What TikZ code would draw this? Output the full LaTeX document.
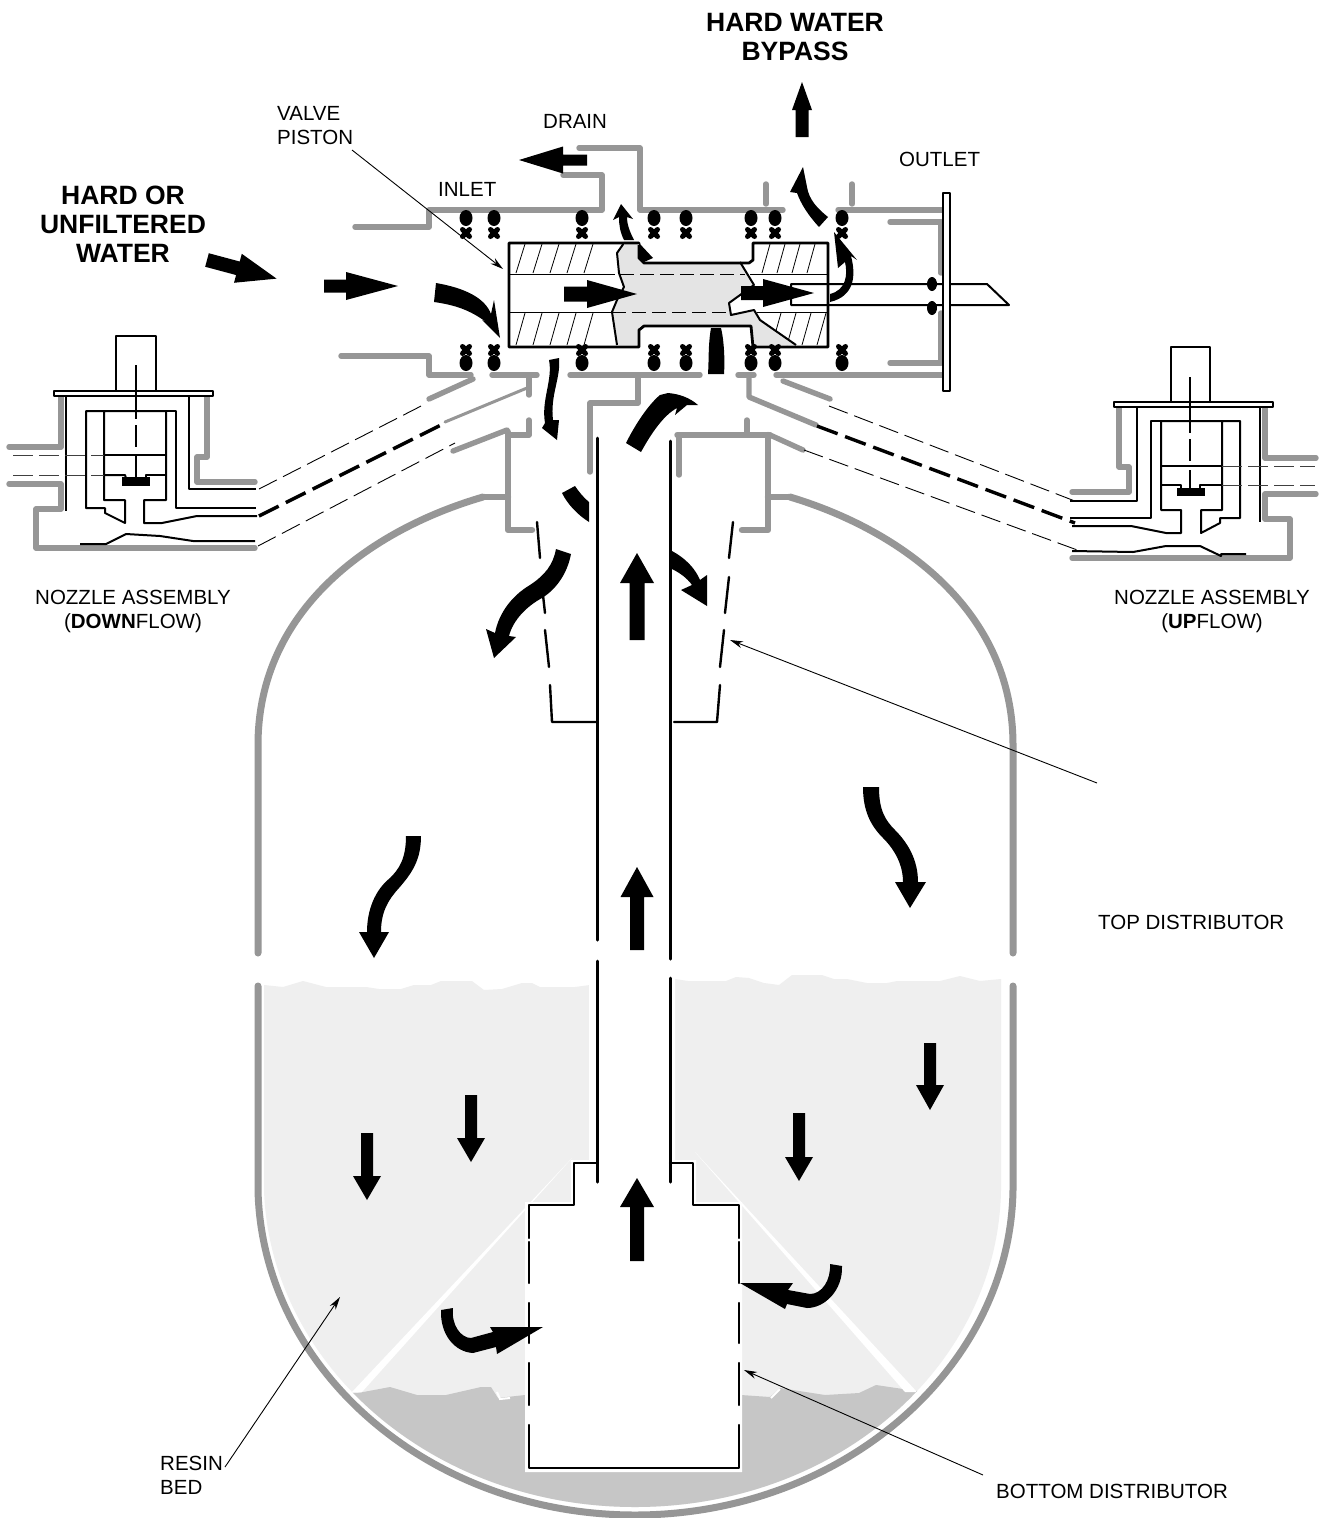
\documentclass[tikz,border=0pt]{standalone}
\usepackage{fontspec}
\setmainfont{Liberation Sans}
\usetikzlibrary{arrows.meta}
\definecolor{gl}{HTML}{969696}
\definecolor{resinlight}{HTML}{EFEFEF}
\definecolor{resindark}{HTML}{C6C6C6}
\definecolor{pistonfill}{HTML}{E4E4E4}
\tikzset{
  gline/.style={line width=5.4pt,color=gl,line cap=round,line join=round},
  tankline/.style={line width=7pt,color=gl,line cap=round,line join=round},
  bline/.style={line width=2pt,black,line join=round},
  bthin/.style={line width=1pt,black,line join=round},
  bwall/.style={line width=2.4pt,black,line cap=round,line join=round},
  thindash/.style={line width=.9pt,black,dash pattern=on 20pt off 7pt},
  thickdash/.style={line width=3.4pt,black,dash pattern=on 22pt off 8pt},
  hdash/.style={line width=1pt,black!75,dash pattern=on 20pt off 6pt},
  leader/.style={line width=.9pt,black,-{Stealth[length=13pt,width=7pt]}},
  lab/.style={inner sep=0pt,font=\fontsize{20.5}{24}\selectfont},
  bigl/.style={inner sep=0pt,font=\fontsize{26.5}{29}\selectfont\bfseries,align=center},
  hatchl/.style={line width=.8pt,black},
}
\newcommand\flowarrow[7]{\fill[shift={(#1,#2)},rotate=#3] (0,-#6/2) -- (#4-#5,-#6/2) -- (#4-#5,-#7/2) -- (#4,0) -- (#4-#5,#7/2) -- (#4-#5,#6/2) -- (0,#6/2) -- cycle;}
\newcommand\ringtop[1]{\fill (#1,218) ellipse (6.5pt and 8pt);
  \draw[line width=5pt,line cap=round] (#1-3.5,229.5)--(#1+3.5,236.5) (#1+3.5,229.5)--(#1-3.5,236.5);}
\newcommand\ringbot[1]{\fill (#1,363) ellipse (6.5pt and 8pt);
  \draw[line width=5pt,line cap=round] (#1-3.5,346.5)--(#1+3.5,353.5) (#1+3.5,346.5)--(#1-3.5,353.5);}
\begin{document}
\begin{tikzpicture}[x=1pt,y=-1pt]
\useasboundingbox (0,0) rectangle (1323,1518);
\fill[white] (0,0) rectangle (1323,1518);

% ---------- resin
\begin{scope}
\clip (264,985) -- (283,987) -- (303,981) -- (326,987) -- (366,987) -- (379,989) -- (401,989) -- (414,985) -- (431,985) -- (441,981) -- (472,981) -- (484,990) -- (502,989) -- (522,983) -- (532,983) -- (540,987) -- (575,987) -- (590,985)
 -- (675,979) -- (688,981) -- (726,981) -- (736,977) -- (749,978) -- (764,983) -- (779,985) -- (792,975) -- (822,975) -- (834,979) -- (847,979) -- (867,983) -- (887,983) -- (897,981) -- (940,981) -- (960,976) -- (980,981) -- (1001,979)
 -- (1001,1190) .. controls (998,1365) and (838,1507) .. (635,1507) .. controls (432,1507) and (270,1365) .. (264,1190) -- cycle;
\fill[resinlight] (250,960) rectangle (1020,1518);
\fill[resindark] (340,1393) -- (358,1393) -- (390,1387) -- (417,1395) -- (446,1395) -- (481,1387) -- (491,1387) -- (498,1398) -- (525,1395) -- (741,1395) -- (770,1397) -- (780,1388) -- (825,1395) -- (859,1393) -- (876,1385) -- (930,1393) -- (1000,1518) -- (270,1518) -- cycle;
\fill[white] (352,1392) -- (362,1392) -- (572,1158) -- cycle;
\fill[white] (695,1152) -- (905,1392) -- (917,1392) -- cycle;
\draw[white,line width=2pt] (771,1398) -- (780,1389);
\draw[white,line width=2pt] (497,1392) -- (500,1399) -- (510,1398);
\end{scope}
\fill[white] (589,970) -- (675,970) -- (675,1160) -- (696,1160) -- (696,1202) -- (742,1202) -- (742,1472) -- (525,1472) -- (525,1202) -- (571,1202) -- (571,1160) -- (589,1160) -- cycle;

% ---------- tank
\draw[tankline] (483,497) .. controls (370,530) and (258,610) .. (258,745) -- (258,953);
\draw[tankline] (790,497) .. controls (900,530) and (1013,610) .. (1013,745) -- (1013,953);
\draw[tankline] (258,986) -- (258,1190) .. controls (262,1370) and (430,1515) .. (635,1515) .. controls (840,1515) and (1010,1370) .. (1013,1190) -- (1013,986);

% ---------- gray pipework, valve
\draw[gline] (579,148) -- (640,148) -- (640,210) -- (783,210);
\draw[gline] (563,175) -- (602,175) -- (602,210) -- (429,210) -- (429,227) -- (355,227);
\draw[gline] (766,184) -- (766,204);
\draw[gline] (852,184) -- (852,204);
\draw[gline] (838,210) -- (942,210);
\draw[gline] (890,222) -- (941,222) -- (941,273);
\draw[gline] (941,313) -- (941,363) -- (890,363);
\draw[gline] (942,375) -- (776,375);
\draw[gline] (783,381) -- (830,399);
\draw[gline] (738,375) -- (754,375);
\draw[gline] (749,375) -- (749,397) -- (816,425);
\draw[gline] (570,375) -- (700,375);
\draw[gline] (638,375) -- (638,403) -- (590,403) -- (590,472);
\draw[gline] (492,375) -- (537,375);
\draw[gline] (529,375) -- (529,395);
\draw[line width=3pt,gl,line cap=round] (527,388) -- (445,422);
\draw[gline] (473,379) -- (429,399);
\draw[gline] (341,356) -- (429,356) -- (429,375) -- (471,375);
\draw[gline] (529,420) -- (529,435) -- (508,435);
\draw[gline] (507,430) -- (453,451);
\draw[gline,line width=6.4pt] (508,432) -- (508,530) -- (532,530);
\draw[gline,line width=6.4pt] (508,497) -- (483,497);
\draw[gline] (677,435) -- (770,435);
\draw[gline] (747,420) -- (747,435);
\draw[gline] (679,435) -- (679,475);
\draw[gline,line width=6.4pt] (768,435) -- (768,530) -- (742,530);
\draw[gline,line width=6.4pt] (768,497) -- (790,497);
\draw[gline] (770,435) -- (803,450);

% ---------- dashed pipes
\coordinate (lu1) at (259,489); \coordinate (lu2) at (427,403);
\coordinate (lm1) at (259,516); \coordinate (lm2) at (443,424);
\coordinate (ll1) at (258,546); \coordinate (ll2) at (455,443);
\coordinate (ru1) at (829,406); \coordinate (ru2) at (1080,503);
\coordinate (rm1) at (817,426); \coordinate (rm2) at (1075,523);
\coordinate (rl1) at (804,450); \coordinate (rl2) at (1080,551);
\draw[thindash] (lu1) -- (lu2);
\draw[thickdash] (lm1) -- (lm2);
\draw[thindash] (ll1) -- (ll2);
\draw[thindash] (ru1) -- (ru2);
\draw[thickdash] (rm1) -- (rm2);
\draw[thindash] (rl1) -- (rl2);

% ---------- left nozzle
\draw[gline] (61,395) -- (61,447) -- (9,447);
\draw[gline] (9,484) -- (61,484) -- (61,509) -- (36,509) -- (36,548) -- (255,548);
\draw[gline] (207,395) -- (207,457) -- (197,457) -- (197,482) -- (255,482);
\draw[bline,fill=white] (54,391) rectangle (213,396);
\draw[bline] (116,391) -- (116,336) -- (156,336) -- (156,391);
\draw[bline] (66,396) -- (66,511);
\draw[bline] (189,396) -- (189,489) -- (256,489);
\draw[bline] (104,411) -- (86,411) -- (86,508) -- (105,508) -- (105,513) -- (125,523) -- (125,500) -- (104,500) -- (104,411) -- (166,411) -- (166,500) -- (144,500) -- (144,523) -- (162,523) -- (197,516) -- (257,516);
\draw[bline] (166,411) -- (176,411) -- (176,508) -- (256,508);
\draw[bline] (104,455) -- (166,455);
\draw[hdash] (13,455) -- (104,455);
\draw[hdash] (13,475) -- (104,475);
\draw[bline] (104,475) -- (125,475) -- (126,478);
\draw[bline] (146,478) -- (146,475) -- (166,475);
\fill (122,477) rectangle (150,486);
\draw[bline,dash pattern=on 54pt off 6pt on 22pt off 9pt] (136,365) -- (136,477);
\draw[bline] (80,544) -- (106,544) -- (126,534) -- (160,536) -- (193,541) -- (255,541);

% ---------- right nozzle
\draw[gline] (1119,406) -- (1119,467) -- (1129,467) -- (1129,492) -- (1072,492);
\draw[gline] (1265,406) -- (1265,458) -- (1316,458);
\draw[gline] (1316,494) -- (1265,494) -- (1265,519) -- (1290,519) -- (1290,558) -- (1072,558);
\draw[bline,fill=white] (1114,402) rectangle (1273,407);
\draw[bline] (1171,402) -- (1171,347) -- (1210,347) -- (1210,402);
\draw[bline] (1137,407) -- (1137,501) -- (1070,501);
\draw[bline] (1260,407) -- (1260,522);
\draw[bline] (1161,421) -- (1151,421) -- (1151,518) -- (1070,518);
\draw[bline] (1161,421) -- (1161,510) -- (1181,510) -- (1181,533) -- (1166,533) -- (1131,526) -- (1072,526);
\draw[bline] (1161,421) -- (1240,421) -- (1240,518) -- (1220,518) -- (1220,523) -- (1201,533) -- (1201,510) -- (1222,510) -- (1222,421);
\draw[bline] (1161,466) -- (1222,466);
\draw[hdash] (1222,466) -- (1315,466);
\draw[bline] (1161,485) -- (1181,485) -- (1181,488);
\draw[bline] (1200,488) -- (1200,485) -- (1222,485);
\draw[hdash] (1222,485) -- (1315,485);
\fill (1177,488) rectangle (1205,496);
\draw[bline,dash pattern=on 56pt off 6pt on 22pt off 9pt] (1190,377) -- (1190,488);
\draw[bline] (1072,551) -- (1133,552) -- (1166,546) -- (1200,546) -- (1221,556) -- (1221,554) -- (1246,554);

% ---------- piston
\fill[white] (509,242) rectangle (828,348);
\foreach \x in {516,533,...,600} \draw[hatchl] (\x,273) -- (\x+9,244);
\foreach \x in {762,777,...,820} \draw[hatchl] (\x,273) -- (\x+8,244);
\foreach \x in {516,533,...,600} \draw[hatchl] (\x,345) -- (\x+9,313);
\foreach \x in {772,787,...,817} \draw[hatchl] (\x,345) -- (\x+9,313);
\fill[pistonfill] (624,243) -- (639,243) -- (639,258) -- (644,262) -- (740,262) -- (754,285) -- (729,303) -- (731,315) -- (754,310) -- (760,320) -- (796,345) -- (754,345) -- (751,325) -- (644,325) -- (639,327) -- (639,345) -- (617,345) -- (612,312) -- (617,300) -- (624,287) -- (619,273) -- (617,253) -- cycle;
\draw[bline] (624,243) -- (617,253) -- (619,273) -- (624,287) -- (617,300) -- (612,312) -- (617,345);
\draw[bline] (740,262) -- (754,285) -- (729,303) -- (731,315) -- (754,310) -- (760,320) -- (796,345);
\draw[bthin] (509,274) -- (615,274);
\draw[bthin,dash pattern=on 14pt off 6pt] (620,274) -- (745,274);
\draw[bthin] (750,274) -- (828,274);
\draw[bthin] (509,312) -- (612,312);
\draw[bthin,dash pattern=on 14pt off 6pt] (612,312) -- (730,312);
\draw[bthin] (757,312) -- (828,312);
\draw[line width=2.8pt,line join=round] (639,243) -- (509,243) -- (509,347) -- (639,347) -- (639,330) -- (644,326) -- (751,326) -- (753,347) -- (828,347) -- (828,243) -- (753,243) -- (753,260) -- (749,263) -- (644,263) -- (639,258) -- cycle;
\fill (639,243) -- (653,258) -- (644,262) -- (639,258) -- cycle;
\fill[gl] (624,241) -- (639,241) -- (639,245) -- (624,245) -- cycle;
\draw[line width=1.4pt] (639,243) -- (509,243);

% ---------- O-rings
\foreach \x in {466,494,582,654,686,751,775,842} {\ringtop{\x}\ringbot{\x}}

% ---------- outlet stem
\draw[bline] (791,284) -- (987,284) -- (1009,305) -- (791,305) -- cycle;
\draw[bline,fill=white] (943,193) rectangle (950,391);
\fill (932,284) ellipse (5pt and 7pt);
\fill (932,308) ellipse (5pt and 7pt);

% ---------- top distributor
\draw[bwall] (537,522) -- (540,558);
\draw[bwall] (543,595) -- (545,613);
\draw[bwall] (545,630) -- (549,667);
\draw[bwall] (550,685) -- (552,722) -- (596,722);
\draw[bwall] (733,522) -- (729,558);
\draw[bwall] (729,577) -- (725,613);
\draw[bwall] (724,630) -- (720,667);
\draw[bwall] (720,685) -- (717,722) -- (674,722);

% ---------- central tube
\draw[line width=3pt,line cap=round] (597,438) -- (597,940);
\draw[line width=3pt,line cap=round] (597,961) -- (597,1182);
\draw[line width=3pt,line cap=round] (670,441) -- (670,959);
\draw[line width=3pt,line cap=round] (670,978) -- (670,1182);

% ---------- bottom distributor
\draw[bwall] (597,1163) -- (574,1163) -- (574,1205) -- (529,1205) -- (529,1238);
\draw[bwall] (529,1242) -- (529,1283);
\draw[bwall] (529,1303) -- (529,1343);
\draw[bwall] (529,1363) -- (529,1405);
\draw[bwall] (529,1425) -- (529,1468) -- (739,1468) -- (739,1425);
\draw[bwall] (739,1405) -- (739,1363);
\draw[bwall] (739,1343) -- (739,1303);
\draw[bwall] (739,1283) -- (739,1242);
\draw[bwall] (739,1238) -- (739,1205) -- (693,1205) -- (693,1163) -- (670,1163);

% ---------- flow arrows, straight
\flowarrow{802}{137}{90}{55}{28}{13}{20}
\flowarrow{637}{640}{90}{87}{30}{15}{34}
\flowarrow{637}{950}{90}{83}{30}{14}{33}
\flowarrow{637}{1261}{90}{83}{29}{14}{34}
\flowarrow{367}{1133}{-90}{67}{24}{12}{28}
\flowarrow{471}{1095}{-90}{67}{24}{12}{28}
\flowarrow{799}{1113}{-90}{68}{24}{12}{28}
\flowarrow{930}{1043}{-90}{67}{25}{12}{28}
\flowarrow{207}{260}{-15}{72}{40}{14}{30}
\flowarrow{324}{286}{0}{74}{52}{13}{28}
\flowarrow{564}{294}{0}{73}{50}{15}{28}
\flowarrow{741}{293}{0}{73}{51}{14}{28}
\flowarrow{587}{160}{180}{68}{44}{11}{27}

% ---------- flow arrows, curved
\fill (436,283) .. controls (465,288) and (485,298) .. (491,314) -- (494,300) -- (500,338) -- (482,320) -- (486,322) .. controls (470,310) and (455,305) .. (434,302) -- cycle;
\fill (621,204) -- (633,219) -- (627,217) .. controls (627,225) and (630,232) .. (634,240) -- (624,240) .. controls (620,232) and (619,225) .. (619,217) -- (613,220) -- cycle;
\fill (803,167) -- (807,187) .. controls (809,200) and (818,209) .. (828,217) -- (819,227) .. controls (808,215) and (801,204) .. (797,193) -- (790,192) -- cycle;
\fill (834,232) -- (857,260) -- (851,256) .. controls (856,275) and (855,296) .. (830,302) -- (830,294) .. controls (846,290) and (848,275) .. (845,262) -- (838,268) -- cycle;
\fill (711,328) .. controls (708,345) and (709,360) .. (708,374) -- (724,374) .. controls (725,360) and (724,340) .. (721,328) -- cycle;
\fill (549,360) -- (559,358) .. controls (561,378) and (550,395) .. (553,420) -- (559,420) -- (557,440) -- (542,428) -- (545,423) .. controls (541,400) and (553,380) .. (549,360) -- cycle;
\fill (626,443) .. controls (635,425) and (648,405) .. (660,395) -- (668,393) .. controls (680,394) and (690,398) .. (698,405) -- (687,405) -- (675,415) -- (677,408) .. controls (664,415) and (652,432) .. (641,452) -- cycle;
\fill (562,493) -- (575,486) .. controls (579,492) and (584,498) .. (589,502) -- (589,522) .. controls (578,515) and (568,505) .. (562,493) -- cycle;
\fill (556,549) -- (571,554) .. controls (567,575) and (555,590) .. (542,598) .. controls (527,606) and (513,620) .. (509,636) -- (516,637) -- (494,658) -- (486,629) -- (495,633) .. controls (499,612) and (513,595) .. (530,585) .. controls (545,575) and (553,565) .. (556,549) -- cycle;
\fill (672,551) .. controls (685,558) and (695,568) .. (700,580) -- (707,575) -- (707,606) -- (681,590) -- (692,585) .. controls (687,578) and (680,573) .. (672,569) -- cycle;
\fill (406,836) .. controls (406,860) and (398,870) .. (390,878) .. controls (375,890) and (367,910) .. (367,932) -- (359,932) -- (374,958) -- (389,932) -- (381,932) .. controls (381,912) and (388,900) .. (399,888) .. controls (412,873) and (421,860) .. (421,836) -- cycle;
\fill (863,787) .. controls (863,810) and (870,825) .. (883,838) .. controls (895,850) and (903,865) .. (903,882) -- (895,882) -- (910,908) -- (926,882) -- (918,882) .. controls (918,860) and (908,843) .. (895,830) .. controls (885,820) and (879,810) .. (879,787) -- cycle;
\fill (441,1310) .. controls (440,1335) and (455,1352) .. (473,1353) -- (496,1347) -- (497,1354) -- (543,1327) -- (490,1327) -- (493,1332) -- (471,1338) .. controls (461,1338) and (451,1325) .. (453,1308) -- cycle;
\fill (830,1264) .. controls (831,1280) and (822,1294) .. (810,1294) -- (788,1290) -- (793,1283) -- (740,1283) -- (785,1309) -- (787,1304) -- (807,1308) .. controls (825,1308) and (843,1290) .. (842,1266) -- cycle;

% ---------- labels
\node[bigl,anchor=center] (bypass) at (795,37) {HARD WATER\\BYPASS};
\node[bigl,anchor=center] (hard) at (123,224) {HARD OR\\UNFILTERED\\WATER};
\node[lab,anchor=west,align=left] (valve) at (277,126) {VALVE\\PISTON};
\node[lab,anchor=west] (drain) at (543,121) {DRAIN};
\node[lab,anchor=west] (inlet) at (438,189) {INLET};
\node[lab,anchor=west] (outlet) at (899,159) {OUTLET};
\node[lab,anchor=center,align=center] (nozd) at (133,611) {NOZZLE ASSEMBLY\\(\textbf{DOWN}FLOW)};
\node[lab,anchor=center,align=center] (nozu) at (1212,611) {NOZZLE ASSEMBLY\\(\textbf{UP}FLOW)};
\node[lab,anchor=west] (topd) at (1098,922) {TOP DISTRIBUTOR};
\node[lab,anchor=west,align=left] (resin) at (160,1475) {RESIN\\BED};
\node[lab,anchor=west] (botd) at (996,1491) {BOTTOM DISTRIBUTOR};

% ---------- leaders
\coordinate (valveS) at (352,150); \coordinate (valveT) at (503,269);
\coordinate (topS) at (1097,783); \coordinate (topT) at (730,640);
\coordinate (resinS) at (225,1467); \coordinate (resinT) at (340,1297);
\coordinate (botS) at (983,1475); \coordinate (botT) at (744,1370);
\draw[leader] (valveS) -- (valveT);
\draw[leader] (topS) -- (topT);
\draw[leader] (resinS) -- (resinT);
\draw[leader] (botS) -- (botT);
\end{tikzpicture}
\end{document}
